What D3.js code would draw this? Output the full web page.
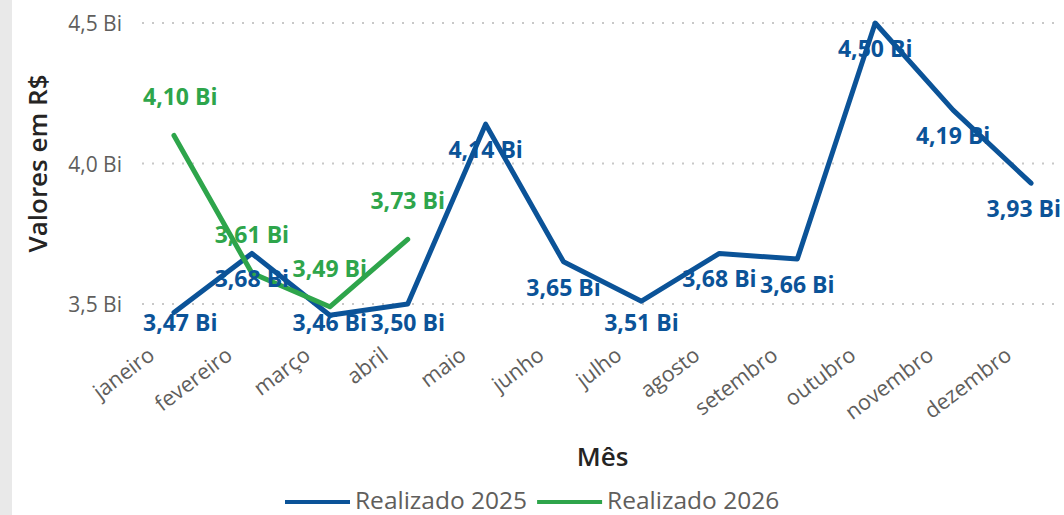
<!DOCTYPE html>
<html>
<head>
<meta charset="utf-8">
<script src="https://cdn.jsdelivr.net/npm/d3@7"></script>
<style>
  html, body { margin: 0; padding: 0; background: #fff; }
  svg { display: block; font-family: "Open Sans", "Noto Sans", sans-serif; }
</style>
</head>
<body>
<svg id="chart" width="1064" height="515"></svg>
<script>
// Monthly realized values, in billions of R$
const months = ["janeiro", "fevereiro", "março", "abril", "maio", "junho",
                "julho", "agosto", "setembro", "outubro", "novembro", "dezembro"];
const realizado2025 = [3.47, 3.68, 3.46, 3.50, 4.14, 3.65, 3.51, 3.68, 3.66, 4.50, 4.19, 3.93];
const realizado2026 = [4.10, 3.61, 3.49, 3.73];
const yTicks = [3.5, 4.0, 4.5];
const seriesNames = ["Realizado 2025", "Realizado 2026"];

const BLUE = "#0b5398";
const GREEN = "#2ea54b";

const svg = d3.select("#chart");

// side panel strip
svg.append("rect").attr("x", 0).attr("y", 0).attr("width", 12).attr("height", 515)
  .attr("fill", "#e9e9e9");

const plot = { left: 135, right: 1070, top: 23, bottom: 304 };

const x = d3.scalePoint().domain(months).range([plot.left, plot.right]).padding(0.5);
const y = d3.scaleLinear().domain([3.5, 4.5]).range([plot.bottom, plot.top]);

const fmt = v => d3.format(".2f")(v).replace(".", ",") + " Bi";
const tickFmt = v => d3.format(".1f")(v).replace(".", ",") + " Bi";

// y gridlines and tick labels
const yAxis = d3.axisLeft(y).tickValues(yTicks).tickSize(0).tickFormat(tickFmt);
const gy = svg.append("g").attr("transform", "translate(122,0)").call(yAxis);
gy.select(".domain").remove();
gy.selectAll("text")
  .attr("x", 0).attr("dy", "0.36em")
  .attr("fill", "#605e5c").style("font-size", "21px")
  .style("font-family", "'Open Sans', sans-serif");

svg.append("g").selectAll("line").data(yTicks).join("line")
  .attr("x1", 142).attr("x2", 1056)
  .attr("y1", d => y(d)).attr("y2", d => y(d))
  .attr("stroke", "#c8c8c8").attr("stroke-width", 2)
  .attr("stroke-dasharray", "2,8");

// x axis month labels, rotated
const xAxis = d3.axisBottom(x).tickSize(0);
const gx = svg.append("g").call(xAxis);
gx.select(".domain").remove();
gx.selectAll(".tick").attr("transform", null);
gx.selectAll(".tick text")
  .attr("y", null).attr("dy", null)
  .attr("text-anchor", "end")
  .attr("transform", d => `translate(${x(d) - 18},358) rotate(-37)`)
  .attr("fill", "#605e5c").style("font-size", "21.5px")
  .style("font-family", "'Open Sans', sans-serif");

// axis titles
svg.append("text")
  .attr("transform", `translate(47,${(plot.top + plot.bottom) / 2}) rotate(-90)`)
  .attr("text-anchor", "middle")
  .attr("fill", "#252423").style("font-size", "26px").style("font-weight", 600)
  .text("Valores em R$");

svg.append("text")
  .attr("x", (plot.left + plot.right) / 2).attr("y", 466)
  .attr("text-anchor", "middle")
  .attr("fill", "#252423").style("font-size", "26px").style("font-weight", 600)
  .text("Mês");

// lines
const line = d3.line().x((d, i) => x(months[i])).y(d => y(d));
const series = [
  { values: realizado2025, color: BLUE, below: true },
  { values: realizado2026, color: GREEN, below: false }
];

series.forEach(s => {
  svg.append("path").datum(s.values)
    .attr("d", line)
    .attr("fill", "none").attr("stroke", s.color).attr("stroke-width", 5)
    .attr("stroke-linejoin", "round").attr("stroke-linecap", "round");
});

// data labels
const labelMin = 143, labelMax = 1061, labelFloor = 331;
series.forEach(s => {
  const g = svg.append("g");
  s.values.forEach((v, i) => {
    const px = x(months[i]);
    const py = y(v);
    const t = g.append("text")
      .attr("text-anchor", "middle")
      .attr("fill", s.color).style("font-size", "23px").style("font-weight", 700)
      .attr("y", s.below ? Math.min(py + 34, labelFloor) : py - 30)
      .text(fmt(v));
    const w = t.node().getComputedTextLength();
    const cx = Math.max(labelMin + w / 2, Math.min(labelMax - w / 2, px));
    t.attr("x", cx);
  });
});

// legend
const legend = svg.append("g");
let lx = 285;
seriesNames.forEach((name, i) => {
  const color = i === 0 ? BLUE : GREEN;
  legend.append("line")
    .attr("x1", lx).attr("x2", lx + 65).attr("y1", 502).attr("y2", 502)
    .attr("stroke", color).attr("stroke-width", 4);
  const t = legend.append("text")
    .attr("x", lx + 70).attr("y", 509)
    .attr("fill", "#605e5c").style("font-size", "24.5px")
    .text(name);
  lx += 70 + t.node().getComputedTextLength() + 10;
});
</script>
</body>
</html>
